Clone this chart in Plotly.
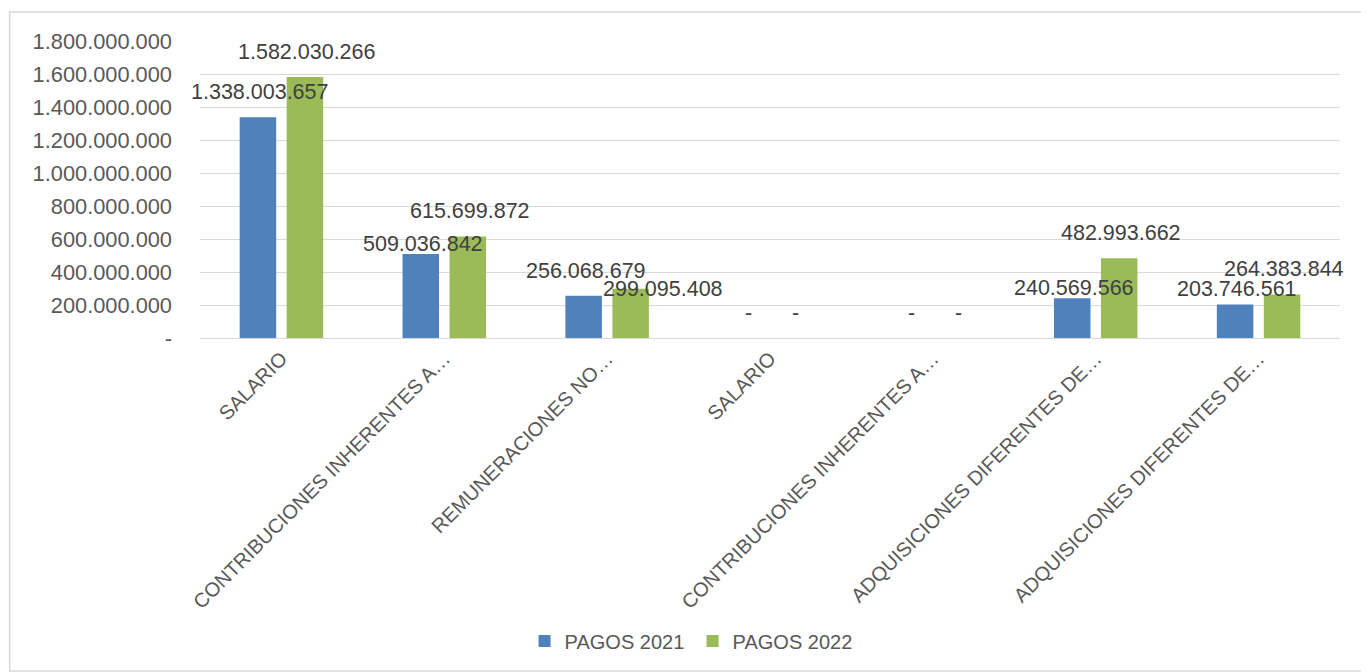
import plotly.graph_objects as go

categories = [
    "SALARIO",
    "CONTRIBUCIONES INHERENTES A…",
    "REMUNERACIONES NO…",
    "SALARIO",
    "CONTRIBUCIONES INHERENTES A…",
    "ADQUISICIONES DIFERENTES DE…",
    "ADQUISICIONES DIFERENTES DE…",
]
pagos_2021 = [1338003657, 509036842, 256068679, 0, 0, 240569566, 203746561]
pagos_2022 = [1582030266, 615699872, 299095408, 0, 0, 482993662, 264383844]
y_tickvals = [0, 200e6, 400e6, 600e6, 800e6, 1000e6, 1200e6, 1400e6, 1600e6, 1800e6]
y_ticktext = ["-", "200.000.000", "400.000.000", "600.000.000", "800.000.000",
              "1.000.000.000", "1.200.000.000", "1.400.000.000", "1.600.000.000",
              "1.800.000.000"]

# data-label placement (pixel nudges, as in the original chart)
label_dy_2021 = [25, 10, 25, 25, 25, 10, 15]
label_dy_2022 = [25, 25, 0, 25, 25, 25, 25]
label_dx_2021 = [2, 2, 2, 2, 2, 2, 2]
label_dx_2022 = [2, 2, 32, 2, 2, 2, 2]


def fmt(v):
    return "-" if v == 0 else f"{v:,}".replace(",", ".")


FONT = "Liberation Sans"
GREY = "#595959"
C21 = "#4F81BD"
C22 = "#9BBB59"
BARGAP = 0.423
xs = list(range(len(categories)))

fig = go.Figure()
fig.add_trace(go.Bar(x=xs, y=pagos_2021, name="PAGOS 2021", marker_color=C21,
                     marker_line_width=0, hoverinfo="y"))
fig.add_trace(go.Bar(x=xs, y=pagos_2022, name="PAGOS 2022", marker_color=C22,
                     marker_line_width=0, hoverinfo="y"))

off = (1 - BARGAP) / 4
for series, sign, dys, dxs in ((pagos_2021, -1, label_dy_2021, label_dx_2021),
                               (pagos_2022, 1, label_dy_2022, label_dx_2022)):
    for i, v in enumerate(series):
        fig.add_annotation(x=i + sign * off, y=v, xref="x", yref="y",
                           text=fmt(v), showarrow=False, yshift=dys[i], xshift=dxs[i],
                           font=dict(family=FONT, size=21.5, color="#404040"))

# page body has an 8px margin; figure sized to fit the window
OX, OY = 8, 8
W, H = 1369 - OX, 672 - OY
L = 199.5 - OX
T = 41 - OY
pw = 1141
ph = 297
R = W - L - pw
B = H - T - ph
base = T + ph  # figure pixel y of the plot bottom


def px_x(x):
    return (x - OX - L) / pw


def px_y(y):
    return (base - (y - OY)) / ph


fig.add_shape(type="rect", xref="paper", yref="paper",
              x0=px_x(9), x1=px_x(1367), y0=px_y(671), y1=px_y(12),
              line=dict(color="#D9D9D9", width=1.5), fillcolor="rgba(0,0,0,0)",
              layer="below")

fig.update_layout(
    width=W, height=H,
    margin=dict(l=L, r=R, t=T, b=B, autoexpand=False),
    paper_bgcolor="white", plot_bgcolor="white",
    barmode="group", bargap=BARGAP, bargroupgap=0.223,
    font=dict(family=FONT, size=20, color=GREY),
    showlegend=True,
    legend=dict(orientation="h", x=px_x(692.5), xanchor="center",
                y=px_y(641), yanchor="middle",
                font=dict(family=FONT, size=20, color=GREY), itemwidth=30,
                entrywidth=123, traceorder="normal"),
    xaxis=dict(tickmode="array", tickvals=xs, ticktext=categories, tickangle=-45,
               range=[-0.5, len(categories) - 0.5], showgrid=False, zeroline=False,
               showline=True, linecolor="#D9D9D9", linewidth=1, ticks="",
               automargin=False,
               tickfont=dict(family=FONT, size=20, color=GREY)),
    yaxis=dict(range=[0, 1.8e9], tickmode="array", tickvals=y_tickvals,
               ticktext=y_ticktext, showgrid=True, gridcolor="#D9D9D9", gridwidth=1,
               zeroline=False, showline=False, ticks="", ticklabelstandoff=27,
               automargin=False,
               tickfont=dict(family=FONT, size=21.8, color=GREY)),
)

fig.write_html("out.html")
